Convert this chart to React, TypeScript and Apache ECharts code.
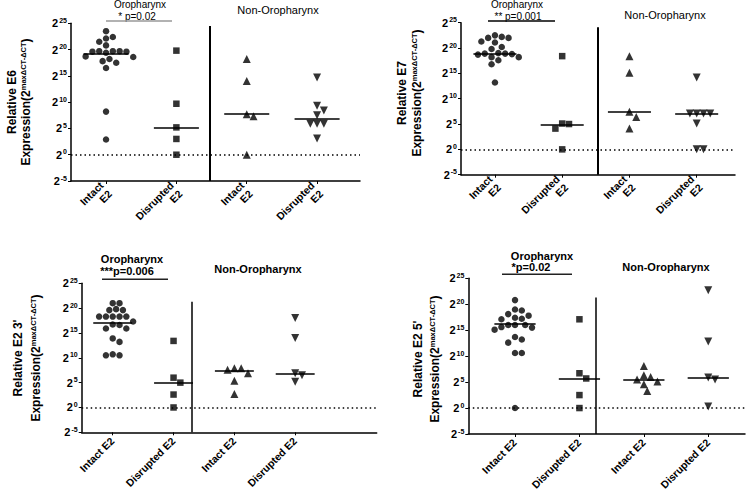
import React, { useEffect, useRef } from 'react';
import * as echarts from 'echarts';

const FONT = '"Liberation Sans", Arial, Helvetica, sans-serif';

// Tick exponents of the log2 y axes (labels are 2^n)
const yTickExponents = [-5, 0, 5, 10, 15, 20, 25];
const catsTwoLine = ['Intact\nE2', 'Disrupted\nE2', 'Intact\nE2', 'Disrupted\nE2'];
const catsOneLine = ['Intact E2', 'Disrupted E2', 'Intact E2', 'Disrupted E2'];

// Values are log2 relative expression (exponents)
// E6
const e6OroIntact = [23.5, 22.4, 22.1, 21.5, 20.8, 19.7, 19.7, 19.7, 19.6, 19.6, 19.4, 18.7, 18.6, 18.2, 17.8, 17.5, 16.5, 8.2, 2.9];
const e6OroDisrupted = [19.8, 9.7, 5.2, 3.0, 0];
const e6NonIntact = [18.2, 14.0, 7.7, 7.3, 0];
const e6NonDisrupted = [14.7, 9.3, 8.4, 7.5, 5.9, 5.9, 5.9, 3.1];
const e6Medians = [19.2, 5.2, 7.8, 6.9];

// E7
const e7OroIntact = [22.5, 22.2, 22.0, 22.0, 21.1, 21.3, 20.2, 19.8, 19.0, 18.9, 18.9, 18.8, 18.7, 18.2, 18.2, 17.6, 16.8, 13.2];
const e7OroDisrupted = [18.4, 5.1, 5.0, 4.1, 0];
const e7NonIntact = [18.4, 15.1, 7.4, 6.4, 4.1];
const e7NonDisrupted = [14.2, 7.1, 7.1, 7.1, 7.1, 5.1, 0, 0];
const e7Medians = [18.8, 4.9, 7.5, 7.0];

// E2 3'
const e23OroIntact = [21.0, 21.0, 19.8, 19.6, 19.6, 18.3, 18.3, 18.3, 18.3, 18.3, 17.3, 16.7, 16.6, 15.9, 15.9, 13.9, 13.2, 10.7, 10.5, 10.5];
const e23OroDisrupted = [13.4, 6.0, 5.0, 2.6, 0];
const e23NonIntact = [7.9, 7.9, 7.6, 6.9, 5.4, 2.7];
const e23NonDisrupted = [18.0, 14.0, 6.9, 6.5, 5.2];
const e23Medians = [17.1, 5.0, 7.3, 6.8];

// E2 5'
const e25OroIntact = [20.8, 19.0, 18.8, 18.1, 17.8, 17.4, 17.2, 17.1, 16.0, 16.0, 16.0, 15.6, 15.5, 15.1, 13.7, 13.2, 12.6, 10.6, 10.6, 0];
const e25OroDisrupted = [17.1, 6.7, 5.7, 2.5, 0];
const e25NonIntact = [8.1, 6.3, 6.0, 5.5, 5.1, 4.6, 3.3];
const e25NonDisrupted = [22.7, 12.8, 5.9, 5.5, 0.3];
const e25Medians = [16.3, 5.6, 5.5, 5.8];

const panelGroups = [
  [e6OroIntact, e6OroDisrupted, e6NonIntact, e6NonDisrupted],
  [e7OroIntact, e7OroDisrupted, e7NonIntact, e7NonDisrupted],
  [e23OroIntact, e23OroDisrupted, e23NonIntact, e23NonDisrupted],
  [e25OroIntact, e25OroDisrupted, e25NonIntact, e25NonDisrupted],
];
const panelMedians = [e6Medians, e7Medians, e23Medians, e25Medians];
const yTitles = ['Relative E6', 'Relative E7', "Relative E2 3'", "Relative E2 5'"];
const pLabels = ['* p=0.02', '** p=0.001', '***p=0.006', '*p=0.02'];

const layouts = [
  { left: 71, top: 23.3, width: 289, height: 157.7, xMin: -0.498, xMax: 3.61, divider: 1.47, dividerTop: 24.5, labels: catsTwoLine, bold: false, dividerW: 2 },
  { left: 461, top: 22.7, width: 274, height: 152, xMin: -0.505, xMax: 3.57, divider: 1.535, dividerTop: 24.1, labels: catsTwoLine, bold: false, dividerW: 2 },
  { left: 81.7, top: 283.3, width: 295, height: 149, xMin: -0.51, xMax: 4.34, divider: 1.3, dividerTop: 21.3, labels: catsOneLine, bold: true, dividerW: 1.5 },
  { left: 468.3, top: 278.3, width: 276.7, height: 155.7, xMin: -0.725, xMax: 3.57, divider: 1.26, dividerTop: 21.3, labels: catsOneLine, bold: true, dividerW: 1.5 },
];

const annot = [
  { ylab1: [12, 102], ylab2: [26, 102], oro: [140, 4.5], p: [137, 16], bracket: [106, 172, 21], bracketColor: '#999', non: [278, 10] },
  { ylab1: [402, 93], ylab2: [417, 93], oro: [517, 4.5], p: [518, 16], bracket: [488, 555, 21], bracketColor: '#000', non: [665, 15] },
  { ylab1: [18, 358], ylab2: [36, 358], oro: [132, 259], p: [127, 271], bracket: [102, 168, 279.3], bracketColor: '#222', non: [258, 269] },
  { ylab1: [418, 359], ylab2: [435, 359], oro: [542, 256], p: [531, 267], bracket: [502, 572, 274.3], bracketColor: '#222', non: [666, 267] },
];

const symbols = ['circle', 'rect', 'triangle', 'triangle'];
const symbolRot = [0, 0, 0, 180];
const symbolSizes = [6.5, 6.5, 8, 8];

// simple beeswarm layout: spread points horizontally so markers do not overlap
function swarm(vals: number[], center: number, pxX: number, pxY: number, d: number): number[][] {
  const placed: { x: number; y: number }[] = [];
  const out: number[][] = [];
  const order = vals.map((_, i) => i).sort((a, b) => vals[b] - vals[a]);
  const step = d * 0.5;
  for (const i of order) {
    const y = vals[i] * pxY;
    let chosen = 0;
    for (let k = 0; k < 80; k++) {
      const off = k === 0 ? 0 : (k % 2 === 1 ? 1 : -1) * Math.ceil(k / 2) * step;
      if (placed.every((p) => Math.hypot(p.x - off, p.y - y) >= d)) {
        chosen = off;
        break;
      }
    }
    placed.push({ x: chosen, y });
    out.push([center + chosen / pxX, vals[i]]);
  }
  return out;
}

function buildOption() {
  const grid: any[] = [];
  const xAxis: any[] = [];
  const yAxis: any[] = [];
  const series: any[] = [];
  const graphic: any[] = [];

  layouts.forEach((L, pi) => {
    grid.push({ left: L.left, top: L.top, width: L.width, height: L.height, containLabel: false, outerBoundsMode: 'none' });
    xAxis.push({
      type: 'value',
      gridIndex: pi,
      min: L.xMin,
      max: L.xMax,
      splitLine: { show: false },
      axisLine: { show: true, onZero: false, lineStyle: { color: '#000', width: 1.5 } },
      axisTick: { show: true, customValues: [0, 1, 2, 3], length: 3, lineStyle: { color: '#000', width: 1 } },
      axisLabel: {
        customValues: [0, 1, 2, 3],
        formatter: (v: number) => L.labels[Math.round(v)] ?? '',
        rotate: 45,
        margin: 7,
        color: '#000',
        fontFamily: FONT,
        fontWeight: 'bold',
        fontSize: 10.5,
        lineHeight: 12,
      },
    });
    yAxis.push({
      type: 'value',
      gridIndex: pi,
      min: yTickExponents[0],
      max: yTickExponents[yTickExponents.length - 1],
      interval: 5,
      splitLine: { show: false },
      axisLine: { show: true, onZero: false, lineStyle: { color: '#000', width: 1.5 } },
      axisTick: { show: true, length: 3, lineStyle: { color: '#000', width: 1 } },
      axisLabel: {
        margin: 4,
        formatter: (v: number) => `{b|2}{s|${v}}`,
        rich: {
          b: { fontSize: 11, fontWeight: 'bold', fontFamily: FONT, color: '#000', lineHeight: 13 },
          s: { fontSize: 7, fontWeight: 'bold', fontFamily: FONT, color: '#000', verticalAlign: 'top', lineHeight: 9, padding: [0, 0, 0, 1] },
        },
      },
    });

    const pxX = L.width / (L.xMax - L.xMin);
    const pxY = L.height / 30;
    const groups = panelGroups[pi];
    const meds = panelMedians[pi];
    groups.forEach((vals, gi) => {
      const markData: any[] = [
        [
          { coord: [gi - 0.32, meds[gi]], lineStyle: { color: '#000', width: 1.5, type: 'solid' } },
          { coord: [gi + 0.32, meds[gi]] },
        ],
      ];
      if (gi === 0) {
        markData.push([
          { coord: [L.divider, -5], lineStyle: { color: '#000', width: L.dividerW, type: 'solid' } },
          { coord: [L.divider, L.dividerTop] },
        ]);
        markData.push({ yAxis: 0, lineStyle: { color: '#000', width: 1.5, type: [1.5, 3] } });
      }
      series.push({
        type: 'scatter',
        xAxisIndex: pi,
        yAxisIndex: pi,
        symbol: symbols[gi],
        symbolRotate: symbolRot[gi],
        symbolSize: symbolSizes[gi],
        itemStyle: { color: '#000' },
        data: swarm(vals, gi, pxX, pxY, 6.8),
        z: 3,
        markLine: {
          silent: true,
          symbol: 'none',
          label: { show: false },
          data: markData,
          z: 2,
        },
      });
    });

    const A = annot[pi];
    const titleWeight = L.bold ? 'bold' : 'normal';
    graphic.push({
      type: 'text',
      x: A.ylab1[0],
      y: A.ylab1[1],
      rotation: Math.PI / 2,
      style: { text: yTitles[pi], font: `bold 12px ${FONT}`, fill: '#000', align: 'center', verticalAlign: 'middle' },
    });
    graphic.push({
      type: 'text',
      x: A.ylab2[0],
      y: A.ylab2[1],
      rotation: Math.PI / 2,
      style: {
        text: '{t|Expression(2}{s|max\u0394CT-\u0394CT}{t|)}',
        align: 'center',
        verticalAlign: 'middle',
        rich: {
          t: { fontSize: 12, fontWeight: 'bold', fontFamily: FONT, fill: '#000', lineHeight: 14 },
          s: { fontSize: 7.5, fontWeight: 'bold', fontFamily: FONT, fill: '#000', verticalAlign: 'top', lineHeight: 9 },
        },
      },
    });
    const topFont = pi < 2 ? 10 : 11;
    const topLH = pi < 2 ? 10 : 12;
    graphic.push({
      type: 'text',
      x: A.oro[0],
      y: A.oro[1],
      style: { text: 'Oropharynx', font: `${titleWeight} ${topFont}px ${FONT}`, lineHeight: topLH, fill: '#000', align: 'center', verticalAlign: 'middle' },
    });
    graphic.push({
      type: 'text',
      x: A.p[0],
      y: A.p[1],
      style: { text: pLabels[pi], font: `${titleWeight} ${topFont}px ${FONT}`, lineHeight: topLH, fill: '#000', align: 'center', verticalAlign: 'middle' },
    });
    graphic.push({
      type: 'line',
      shape: { x1: A.bracket[0], y1: A.bracket[2], x2: A.bracket[1], y2: A.bracket[2] },
      style: { stroke: A.bracketColor, lineWidth: 1.5 },
    });
    graphic.push({
      type: 'text',
      x: A.non[0],
      y: A.non[1],
      style: { text: 'Non-Oropharynx', font: `${titleWeight} 11px ${FONT}`, fill: '#000', align: 'center', verticalAlign: 'middle' },
    });
  });

  return {
    animation: false,
    backgroundColor: '#fff',
    textStyle: { fontFamily: FONT },
    grid,
    xAxis,
    yAxis,
    series,
    graphic,
  };
}

export default function App() {
  const ref = useRef<HTMLDivElement>(null);
  useEffect(() => {
    if (!ref.current) return;
    const chart = echarts.init(ref.current, undefined, { renderer: 'svg' });
    chart.setOption(buildOption() as any);
    return () => chart.dispose();
  }, []);
  return <div ref={ref} style={{ position: 'fixed', left: 0, top: 0, width: 750, height: 491 }} />;
}
